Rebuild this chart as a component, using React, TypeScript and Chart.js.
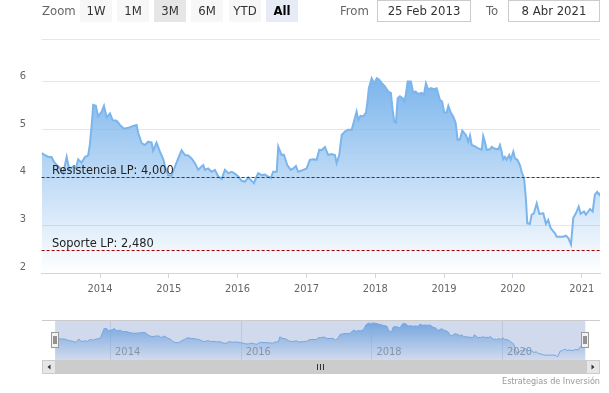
import React, { useEffect, useRef } from 'react';
import { Chart, registerables } from 'chart.js';

Chart.register(...registerables);

const FONT = '"DejaVu Sans Condensed", "Liberation Sans Narrow", "DejaVu Sans", sans-serif';

// ---- data ----
const dates = [
  '2013-02-25','2013-03-15','2013-04-01','2013-04-19','2013-05-01','2013-05-17','2013-06-02','2013-06-20','2013-07-08','2013-07-22',
  '2013-08-12','2013-08-26','2013-09-07','2013-09-25','2013-10-13','2013-10-30','2013-11-08','2013-11-19','2013-11-26','2013-12-10',
  '2013-12-22','2014-01-10','2014-01-22','2014-02-05','2014-02-23','2014-03-09','2014-03-30','2014-04-17','2014-05-08','2014-05-31',
  '2014-06-26','2014-07-14','2014-07-23','2014-08-10','2014-08-27','2014-09-14','2014-10-02','2014-10-10','2014-10-28','2014-11-15',
  '2014-12-03','2014-12-15','2014-12-29','2015-01-16','2015-02-03','2015-02-20','2015-03-10','2015-03-28','2015-04-14','2015-05-02',
  '2015-05-20','2015-06-06','2015-06-24','2015-07-03','2015-07-12','2015-07-29','2015-08-16','2015-09-03','2015-09-21','2015-10-09',
  '2015-10-26','2015-11-13','2015-12-01','2015-12-18','2016-01-05','2016-01-23','2016-02-09','2016-02-27','2016-03-16','2016-03-28',
  '2016-04-11','2016-04-20','2016-05-08','2016-05-25','2016-06-12','2016-06-26','2016-07-08','2016-07-27','2016-08-04','2016-08-22',
  '2016-09-03','2016-09-21','2016-10-09','2016-10-23','2016-11-06','2016-11-18','2016-12-15','2017-01-02','2017-01-19','2017-02-06',
  '2017-02-24','2017-03-10','2017-03-22','2017-04-09','2017-04-26','2017-05-14','2017-06-01','2017-06-10','2017-06-24','2017-07-07',
  '2017-07-24','2017-08-11','2017-08-29','2017-09-10','2017-09-24','2017-10-03','2017-10-15','2017-10-29','2017-11-13','2017-11-21',
  '2017-11-28','2017-12-13','2017-12-27','2018-01-09','2018-01-21','2018-02-04','2018-02-21','2018-03-11','2018-03-25','2018-04-03',
  '2018-04-12','2018-04-21','2018-04-30','2018-05-12','2018-05-26','2018-06-04','2018-06-11','2018-06-22','2018-07-09','2018-07-22',
  '2018-08-03','2018-08-17','2018-09-04','2018-09-16','2018-09-27','2018-10-09','2018-10-24','2018-11-09','2018-11-23','2018-12-10',
  '2018-12-22','2019-01-02','2019-01-15','2019-01-24','2019-02-07','2019-02-19','2019-03-04','2019-03-14','2019-03-27','2019-04-08',
  '2019-04-27','2019-05-10','2019-05-19','2019-05-28','2019-06-14','2019-07-02','2019-07-20','2019-07-28','2019-08-06','2019-08-15',
  '2019-09-02','2019-09-11','2019-09-28','2019-10-16','2019-10-25','2019-11-03','2019-11-11','2019-11-20','2019-11-29','2019-12-13',
  '2019-12-21','2020-01-04','2020-01-13','2020-01-25','2020-02-08','2020-02-17','2020-02-26','2020-03-02','2020-03-11','2020-03-18',
  '2020-04-01','2020-04-10','2020-04-22','2020-05-07','2020-05-21','2020-06-11','2020-06-25','2020-07-07','2020-07-20','2020-08-12',
  '2020-08-21','2020-09-25','2020-10-09','2020-10-22','2020-11-05','2020-11-17','2020-12-01','2020-12-16','2020-12-26','2021-01-13',
  '2021-01-23','2021-02-14','2021-02-28','2021-03-12','2021-03-24','2021-04-04','2021-04-08',
];

const prices = [
  4.51, 4.47, 4.43, 4.43, 4.33, 4.26, 4.20, 4.09, 4.43, 4.17,
  4.23, 4.19, 4.38, 4.31, 4.43, 4.46, 4.68, 5.15, 5.52, 5.50,
  5.28, 5.38, 5.50, 5.26, 5.34, 5.20, 5.19, 5.10, 5.02, 5.04,
  5.08, 5.10, 4.93, 4.72, 4.68, 4.75, 4.73, 4.56, 4.73, 4.54,
  4.38, 4.19, 4.05, 4.04, 4.23, 4.40, 4.57, 4.47, 4.46, 4.40,
  4.30, 4.16, 4.23, 4.26, 4.16, 4.19, 4.12, 4.16, 4.02, 3.97,
  4.16, 4.09, 4.12, 4.08, 4.02, 3.93, 3.91, 4.00, 3.93, 3.88,
  4.02, 4.09, 4.05, 4.06, 4.02, 3.99, 4.12, 4.12, 4.65, 4.47,
  4.48, 4.26, 4.16, 4.19, 4.24, 4.12, 4.16, 4.19, 4.37, 4.38,
  4.37, 4.58, 4.57, 4.64, 4.47, 4.49, 4.47, 4.30, 4.47, 4.89,
  4.96, 5.00, 5.00, 5.17, 5.38, 5.21, 5.29, 5.28, 5.36, 5.60,
  5.87, 6.08, 5.97, 6.08, 6.05, 5.98, 5.91, 5.80, 5.77, 5.42,
  5.17, 5.15, 5.66, 5.70, 5.66, 5.59, 5.70, 6.01, 6.01, 5.77,
  5.80, 5.75, 5.77, 5.73, 5.97, 5.84, 5.87, 5.85, 5.87, 5.63,
  5.59, 5.36, 5.36, 5.50, 5.35, 5.28, 5.14, 4.79, 4.80, 4.98,
  4.89, 4.75, 4.88, 4.68, 4.65, 4.61, 4.58, 4.87, 4.75, 4.58,
  4.59, 4.64, 4.60, 4.59, 4.68, 4.54, 4.38, 4.43, 4.37, 4.47,
  4.37, 4.54, 4.40, 4.37, 4.26, 4.12, 4.02, 3.95, 3.53, 3.04,
  3.03, 3.22, 3.25, 3.46, 3.24, 3.25, 3.03, 3.11, 2.94, 2.83,
  2.76, 2.76, 2.78, 2.73, 2.60, 3.15, 3.25, 3.39, 3.24, 3.29,
  3.22, 3.34, 3.29, 3.64, 3.70, 3.64, 3.68,
];

const rangeStart = '2013-02-25';
const rangeEnd = '2021-04-08';
const yearTicks = [2014, 2015, 2016, 2017, 2018, 2019, 2020, 2021];
const navYearTicks = [2014, 2016, 2018, 2020];
const yTicks = [2, 3, 4, 5, 6];
const yMin = 2;
const yMax = 6.9;
const navYMin = 2.26;
const navYMax = 6.39;
const plotLineValues = [4.0, 2.48];
const plotLineLabels = ['Resistencia LP: 4,000', 'Soporte LP: 2,480'];
const rangeButtons = ['1W', '1M', '3M', '6M', 'YTD', 'All'];
const fromLabel = '25 Feb 2013';
const toLabel = '8 Abr 2021';
const creditText = 'Estrategias de Inversión';

// ---- styles ----
const plotLineColors = ['#006400', '#a00000'];
const SERIES = '124,181,236';

const toTs = (s: string) => {
  const [y, m, d] = s.split('-').map(Number);
  return Date.UTC(y, m - 1, d);
};
const xMin = toTs(rangeStart);
const xMax = toTs(rangeEnd);
const points = dates.map((d, i) => ({ x: toTs(d), y: prices[i] }));
const maxPrice = Math.max(...prices);

const gradientFill = (ctx: any) => {
  const chart = ctx.chart;
  const area = chart.chartArea;
  if (!area) return `rgba(${SERIES},0.5)`;
  const top = chart.scales.y.getPixelForValue(maxPrice);
  const g = chart.ctx.createLinearGradient(0, top, 0, area.bottom);
  g.addColorStop(0, `rgba(${SERIES},1)`);
  g.addColorStop(1, `rgba(${SERIES},0)`);
  return g;
};

const mainPlugin = {
  id: 'mainDeco',
  afterDatasetsDraw(chart: any) {
    const { ctx, chartArea, scales } = chart;
    ctx.save();
    // top border line
    ctx.strokeStyle = '#e6e6e6';
    ctx.lineWidth = 1;
    const ty = Math.round(chartArea.top) + 0.5;
    ctx.beginPath();
    ctx.moveTo(chartArea.left, ty);
    ctx.lineTo(chartArea.right, ty);
    ctx.stroke();
    plotLineValues.forEach((v, i) => {
      const py = Math.round(scales.y.getPixelForValue(v)) + 0.5;
      ctx.strokeStyle = plotLineColors[i];
      ctx.setLineDash([3, 2]);
      ctx.beginPath();
      ctx.moveTo(chartArea.left, py);
      ctx.lineTo(chartArea.right, py);
      ctx.stroke();
      ctx.setLineDash([]);
      ctx.fillStyle = '#222';
      ctx.font = `12.7px ${FONT}`;
      ctx.textBaseline = 'alphabetic';
      ctx.textAlign = 'left';
      ctx.fillText(plotLineLabels[i], chartArea.left + 10.5, py - 3.5);
    });
    ctx.restore();
  },
};

const navPlugin = {
  id: 'navDeco',
  afterDraw(chart: any) {
    const { ctx, chartArea, scales } = chart;
    ctx.save();
    ctx.font = `11px ${FONT}`;
    ctx.fillStyle = '#999';
    ctx.textBaseline = 'middle';
    ctx.textAlign = 'left';
    navYearTicks.forEach((y) => {
      ctx.fillText(String(y), scales.x.getPixelForValue(Date.UTC(y, 0, 1)) + 4.5, 32.5);
    });
    // mask
    ctx.fillStyle = 'rgba(102,133,194,0.3)';
    ctx.fillRect(chartArea.left, chartArea.top, chartArea.right - chartArea.left, chartArea.bottom - chartArea.top);
    // outline
    ctx.strokeStyle = '#cccccc';
    ctx.lineWidth = 1;
    ctx.beginPath();
    ctx.moveTo(42, 0.5);
    ctx.lineTo(600, 0.5);
    ctx.stroke();
    // handles
    [chartArea.left, chartArea.right].forEach((cx: number) => {
      const x0 = Math.round(cx - 4) + 0.5;
      ctx.fillStyle = '#f2f2f2';
      ctx.strokeStyle = '#999999';
      ctx.fillRect(x0, 12.5, 7, 15);
      ctx.strokeRect(x0, 12.5, 7, 15);
      ctx.strokeStyle = '#333333';
      ctx.beginPath();
      ctx.moveTo(x0 + 2.5 - 0.5 + 0.5, 16);
      ctx.lineTo(x0 + 2.5 - 0.5 + 0.5, 24);
      ctx.moveTo(x0 + 4.5 + 0.5 - 0.5, 16);
      ctx.lineTo(x0 + 4.5 + 0.5 - 0.5, 24);
      ctx.stroke();
    });
    ctx.restore();
  },
};

export default function App() {
  const mainRef = useRef<HTMLCanvasElement | null>(null);
  const navRef = useRef<HTMLCanvasElement | null>(null);

  useEffect(() => {
    const main = new Chart(mainRef.current as HTMLCanvasElement, {
      type: 'line',
      data: {
        datasets: [
          {
            data: points,
            borderColor: '#7cb5ec',
            borderWidth: 2,
            pointRadius: 0,
            fill: 'start',
            tension: 0,
            backgroundColor: gradientFill,
          },
        ],
      },
      options: {
        animation: false,
        responsive: false,
        devicePixelRatio: 1,
        events: [],
        layout: { padding: { top: 39, right: 9, left: 0, bottom: 0 } },
        plugins: { legend: { display: false }, tooltip: { enabled: false } },
        scales: {
          x: {
            type: 'linear',
            min: xMin,
            max: xMax,
            afterBuildTicks: (s: any) => {
              s.ticks = yearTicks.map((y) => ({ value: Date.UTC(y, 0, 1) }));
            },
            afterFit: (s: any) => {
              s.height = 37;
            },
            grid: { display: true, drawOnChartArea: false, drawTicks: true, tickLength: 5, color: '#ccd6eb' },
            border: { display: true, color: '#ccd6eb' },
            ticks: {
              autoSkip: false,
              maxRotation: 0,
              padding: 5,
              color: '#666666',
              font: { family: FONT, size: 11 },
              callback: (v: any) => String(new Date(Number(v)).getUTCFullYear()),
            },
          },
          y: {
            type: 'linear',
            min: yMin,
            max: yMax,
            afterBuildTicks: (s: any) => {
              s.ticks = yTicks.map((v) => ({ value: v }));
            },
            afterFit: (s: any) => {
              s.width = 41.6;
            },
            grid: { color: '#e6e6e6', drawTicks: false },
            border: { display: false },
            ticks: {
              padding: 15.6,
              labelOffset: -6,
              color: '#666666',
              font: { family: FONT, size: 11 },
              callback: (v: any) => String(v),
            },
          },
        },
      } as any,
      plugins: [mainPlugin],
    });

    const nav = new Chart(navRef.current as HTMLCanvasElement, {
      type: 'line',
      data: {
        datasets: [
          {
            data: points,
            borderColor: '#7cb5ec',
            borderWidth: 1,
            pointRadius: 0,
            fill: 'start',
            tension: 0,
            backgroundColor: gradientFill,
          },
        ],
      },
      options: {
        animation: false,
        responsive: false,
        devicePixelRatio: 1,
        events: [],
        layout: { padding: { top: 0, right: 23.7, left: 55.1, bottom: 0 } },
        plugins: { legend: { display: false }, tooltip: { enabled: false } },
        scales: {
          x: {
            type: 'linear',
            min: xMin,
            max: xMax,
            afterBuildTicks: (s: any) => {
              s.ticks = navYearTicks.map((y) => ({ value: Date.UTC(y, 0, 1) }));
            },
            afterFit: (s: any) => {
              s.height = 0;
            },
            grid: { color: '#e6e6e6', drawTicks: false },
            border: { display: false },
            ticks: { display: false },
          },
          y: { type: 'linear', display: false, min: navYMin, max: navYMax },
        },
      } as any,
      plugins: [navPlugin],
    });

    return () => {
      main.destroy();
      nav.destroy();
    };
  }, []);

  const btnLeft = [80, 117, 154, 191, 229, 266];
  const textStyle: React.CSSProperties = { position: 'absolute', top: 0, height: 22, lineHeight: '22px', fontSize: 13, whiteSpace: 'nowrap' };

  return (
    <div style={{ position: 'fixed', left: 0, top: 0, width: 609, height: 393, background: '#fff', overflow: 'hidden', fontFamily: FONT }}>
      <canvas ref={mainRef} width={609} height={310} style={{ position: 'absolute', left: 0, top: 0, width: 609, height: 310 }} />
      <canvas ref={navRef} width={609} height={40} style={{ position: 'absolute', left: 0, top: 320, width: 609, height: 40 }} />

      <div style={{ ...textStyle, left: 42, color: '#666' }}>Zoom</div>
      {rangeButtons.map((b, i) => (
        <div
          key={b}
          style={{
            ...textStyle,
            left: btnLeft[i],
            width: 32,
            textAlign: 'center',
            background: b === 'All' ? '#e6ebf5' : b === '3M' ? '#e6e6e6' : '#f7f7f7',
            color: b === 'All' ? '#000' : '#333',
            fontWeight: b === 'All' ? 'bold' : 'normal',
          }}
        >
          {b}
        </div>
      ))}
      <div style={{ ...textStyle, left: 340, color: '#666' }}>From</div>
      <div style={{ ...textStyle, left: 377, width: 94, boxSizing: 'border-box', border: '1px solid #cccccc', lineHeight: '20px', textAlign: 'center', color: '#333' }}>{fromLabel}</div>
      <div style={{ ...textStyle, left: 486, color: '#666' }}>To</div>
      <div style={{ ...textStyle, left: 508, width: 92, boxSizing: 'border-box', border: '1px solid #cccccc', lineHeight: '20px', textAlign: 'center', color: '#333' }}>{toLabel}</div>

      <svg width={609} height={393} style={{ position: 'absolute', left: 0, top: 0, pointerEvents: 'none' }}>
        <rect x={42} y={360} width={558} height={14} fill="#f2f2f2" />
        <rect x={56} y={360} width={530} height={14} fill="#cccccc" />
        <rect x={42.5} y={360.5} width={13} height={13} fill="#e6e6e6" stroke="#cccccc" />
        <rect x={586.5} y={360.5} width={13} height={13} fill="#e6e6e6" stroke="#cccccc" />
        <path d="M 47.5 367 L 50.5 364.5 L 50.5 369.5 Z" fill="#333" />
        <path d="M 594.5 367 L 591.5 364.5 L 591.5 369.5 Z" fill="#333" />
        <path d="M 317.5 364 L 317.5 370 M 320.5 364 L 320.5 370 M 323.5 364 L 323.5 370" stroke="#333" strokeWidth={1} />
      </svg>

      <div style={{ position: 'absolute', left: 400, width: 200, top: 376, height: 11, lineHeight: '11px', fontSize: 9, color: '#999', textAlign: 'right' }}>
        {creditText}
      </div>
    </div>
  );
}
